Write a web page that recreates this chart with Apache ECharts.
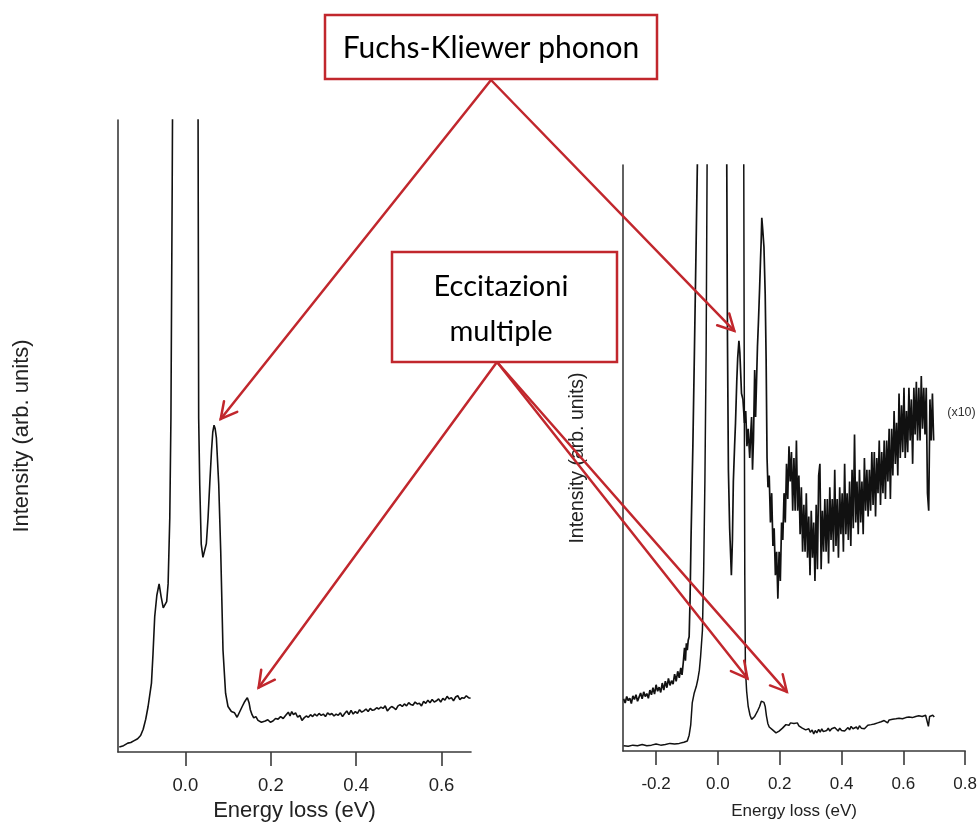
<!DOCTYPE html>
<html>
<head>
<meta charset="utf-8">
<title>EELS spectra</title>
<script src="https://cdn.jsdelivr.net/npm/echarts@6/dist/echarts.min.js"></script>
<style>
  html, body { margin: 0; padding: 0; background: #fff; }
  #main { width: 980px; height: 827px; }
</style>
</head>
<body>
<div id="main"></div>
<script>
// Left spectrum: energy loss (eV) and intensity (arb. units, 0..100 = axis height)
const leftEnergy = [
  -0.155, -0.145, -0.135, -0.128, -0.120, -0.112, -0.105, -0.099, -0.093, -0.0875,
  -0.0796, -0.076, -0.072, -0.067, -0.0617, -0.057, -0.052, -0.0484, -0.044, -0.0406,
  -0.0367, -0.034, -0.031, -0.027, -0.018, -0.008, 0.0, 0.010, 0.020, 0.027,
  0.029, 0.031, 0.0335, 0.037, 0.041, 0.045, 0.049, 0.053, 0.057, 0.061,
  0.064, 0.067, 0.0695, 0.0725, 0.078, 0.0826, 0.088, 0.094, 0.0997, 0.1076,
  0.115, 0.121, 0.1255, 0.133, 0.139, 0.145, 0.149, 0.152, 0.156, 0.160,
  0.165, 0.170, 0.174, 0.178, 0.1816,
  0.187, 0.193, 0.199, 0.205, 0.211, 0.217, 0.223, 0.229, 0.235, 0.241,
  0.245, 0.249, 0.253, 0.258, 0.263, 0.268, 0.273, 0.278, 0.283, 0.288,
  0.293, 0.298, 0.303, 0.308, 0.313, 0.318, 0.323, 0.328, 0.333, 0.338,
  0.343, 0.348, 0.353, 0.358, 0.363, 0.368, 0.373, 0.378, 0.383, 0.388,
  0.393, 0.398, 0.403, 0.408, 0.413, 0.418, 0.423, 0.428, 0.433, 0.438,
  0.443, 0.448, 0.453, 0.458, 0.463, 0.468, 0.473, 0.478, 0.483, 0.488,
  0.493, 0.498, 0.503, 0.508, 0.513, 0.518, 0.523, 0.528, 0.533, 0.538,
  0.543, 0.548, 0.553, 0.558, 0.563, 0.568, 0.573, 0.578, 0.583, 0.588,
  0.593, 0.598, 0.603, 0.608, 0.613, 0.618, 0.623, 0.628, 0.633, 0.638,
  0.643, 0.648, 0.653, 0.658, 0.663, 0.668
];
const leftIntensity = [
  0.8, 1.0, 1.4, 1.5, 1.8, 2.1, 2.6, 3.6, 5.2, 7.2,
  10.9, 15.5, 21.4, 24.8, 26.6, 24.6, 22.8, 22.5, 23.8, 26.6,
  37, 52.8, 90, 150, 260, 310, 320, 300, 240, 150,
  120, 52.8, 42.3, 32.9, 30.8, 30.5, 33, 37.1, 42.5, 47.6,
  50.6, 51.7, 51.2, 49.7, 42.3, 31.9, 16.1, 9.3, 7.2, 6.4,
  6.2, 5.5, 5.7, 7.2, 8.0, 8.6, 7.8, 6.7, 5.9, 5.4,
  5.6, 5.0, 5.1, 4.7, 4.6,
  4.9, 5.1, 4.7, 4.9, 5.3, 5.2, 5.6, 5.3, 5.8, 6.3,
  5.7, 6.4, 5.9, 6.2, 5.5, 5.8, 5.0, 5.4, 5.7, 5.5,
  5.9, 5.6, 6.0, 5.7, 6.1, 5.8, 6.0, 5.6, 6.2, 5.9,
  6.1, 5.7, 6.0, 5.8, 6.2, 5.6, 6.1, 6.5, 5.9, 6.6,
  6.0, 6.4, 6.1, 6.7, 6.3, 6.5, 6.8, 6.4, 6.9, 6.6,
  6.7, 7.0, 6.8, 7.1, 6.9, 7.3, 6.5, 6.9, 7.2, 7.0,
  6.7, 7.3, 7.5, 7.2, 7.6, 7.3, 7.8, 7.5, 7.4, 7.9,
  7.6, 7.7, 7.3, 8.0, 7.7, 8.2, 7.8, 8.3, 7.9, 8.1,
  8.4, 7.9, 8.5, 8.2, 8.8, 8.4, 8.6, 8.1, 8.7, 8.9,
  8.3, 8.6, 8.5, 8.9, 8.6, 8.5
];

// Right spectrum, as measured
const rightEnergy = [
  -0.305, -0.29, -0.275, -0.26, -0.245, -0.23, -0.215, -0.20, -0.185, -0.17,
  -0.155, -0.14, -0.125, -0.11, -0.099, -0.093, -0.088, -0.083, -0.077, -0.070,
  -0.065, -0.060, -0.056, -0.050, -0.046, -0.042, -0.038, -0.034, -0.025, -0.010,
  0.000, 0.020, 0.040, 0.060, 0.075, 0.082, 0.085, 0.087, 0.089, 0.093,
  0.098, 0.104, 0.109, 0.1137, 0.119, 0.124, 0.129, 0.135, 0.1405, 0.1455,
  0.149, 0.153, 0.157, 0.1615, 0.166, 0.171, 0.177, 0.182, 0.188, 0.193,
  0.198, 0.204, 0.209, 0.215, 0.220, 0.225, 0.230, 0.235, 0.240, 0.246,
  0.252, 0.257, 0.262, 0.268, 0.273, 0.278, 0.284, 0.289, 0.294, 0.299,
  0.305, 0.310, 0.315, 0.320, 0.326, 0.331, 0.336, 0.341, 0.347, 0.352,
  0.357, 0.362, 0.368, 0.373, 0.378, 0.384, 0.389, 0.394, 0.400, 0.405,
  0.410, 0.416, 0.421, 0.426, 0.431, 0.437, 0.442, 0.448, 0.453, 0.458,
  0.464, 0.469, 0.474, 0.480, 0.485, 0.490, 0.496, 0.501, 0.506, 0.512,
  0.517, 0.522, 0.528, 0.533, 0.538, 0.544, 0.549, 0.554, 0.560, 0.565,
  0.570, 0.576, 0.581, 0.586, 0.592, 0.597, 0.602, 0.608, 0.613, 0.618,
  0.624, 0.629, 0.634, 0.640, 0.645, 0.650, 0.656, 0.661, 0.666, 0.672,
  0.677, 0.681, 0.685, 0.690, 0.695, 0.700
];
const rightIntensity = [
  0.9, 0.8, 1.0, 0.9, 1.1, 0.9, 1.0, 1.2, 1.0, 1.1,
  1.3, 1.2, 1.3, 1.5, 1.7, 2.7, 4.4, 8.2, 9.8, 11.0,
  12.2, 13.8, 16.1, 20.6, 30.9, 46.2, 68.4, 110, 300, 700,
  900, 850, 700, 480, 260, 140, 70, 30, 14, 10.2,
  7.6, 6.1, 5.4, 5.6, 5.9, 6.4, 6.9, 7.6, 8.5, 8.8,
  8.3, 7.6, 6.0, 4.7, 4.1, 3.9, 3.6, 3.4, 3.1, 3.0,
  3.4, 3.6, 3.9, 4.2, 4.5, 4.7, 4.4, 4.8, 4.5, 4.7,
  4.9, 4.8, 4.3, 4.6, 3.9, 4.2, 3.6, 3.3, 3.8, 3.2,
  3.6, 2.9, 3.5, 3.1, 3.7, 3.2, 3.8, 3.3, 3.6, 3.5,
  3.9, 3.4, 3.8, 3.5, 4.0, 3.7, 3.4, 3.9, 3.5, 3.8,
  3.4, 3.6, 4.0, 3.6, 4.2, 3.8, 4.1, 4.1, 3.7, 4.3,
  3.9, 4.2, 3.8, 4.0, 4.4, 4.1, 4.5, 4.2, 4.6, 4.4,
  4.8, 4.5, 5.0, 4.7, 5.2, 5.0, 4.8, 5.3, 5.0, 5.4,
  5.1, 5.5, 5.2, 5.6, 5.3, 5.5, 5.2, 5.7, 5.4, 5.8,
  5.5, 5.7, 5.4, 5.9, 5.6, 6.0, 5.7, 5.9, 5.6, 6.1,
  5.8, 4.2, 5.9, 5.7, 6.1, 5.8
];

// Right spectrum magnified ten times (offset trace)
const zoomEnergy = [
  -0.305, -0.300, -0.295, -0.290, -0.285, -0.280, -0.275, -0.270, -0.265, -0.260,
  -0.255, -0.250, -0.245, -0.240, -0.235, -0.230, -0.225, -0.220, -0.215, -0.210,
  -0.205, -0.200, -0.195, -0.190, -0.185, -0.180, -0.175, -0.170, -0.165, -0.160,
  -0.155, -0.150, -0.145, -0.140, -0.135, -0.130, -0.125, -0.120, -0.116, -0.112,
  -0.108, -0.105, -0.102, -0.099, -0.096, -0.093, -0.090, -0.087, -0.084, -0.081,
  -0.076, -0.070, -0.065, -0.055, -0.040, -0.020, 0.000, 0.015, 0.024, 0.0287,
  0.031, 0.034, 0.038, 0.0436, 0.047, 0.050, 0.054, 0.057, 0.061, 0.064,
  0.068, 0.071, 0.0764, 0.081, 0.086, 0.090, 0.094, 0.098, 0.103, 0.106,
  0.109, 0.112, 0.115, 0.119, 0.122, 0.125, 0.128, 0.131, 0.135, 0.138,
  0.140, 0.142, 0.145, 0.149, 0.153, 0.156, 0.159, 0.162,
  0.166, 0.170, 0.174, 0.178, 0.182, 0.186, 0.190, 0.194, 0.198, 0.202,
  0.206, 0.210, 0.214, 0.218, 0.222, 0.226, 0.230, 0.234, 0.238, 0.242,
  0.246, 0.250, 0.254, 0.258, 0.262, 0.266, 0.270, 0.274, 0.278, 0.282,
  0.286, 0.290, 0.294, 0.298, 0.302, 0.306, 0.310, 0.314, 0.318, 0.322,
  0.326, 0.330, 0.334, 0.338, 0.342, 0.346, 0.350, 0.354, 0.358, 0.362,
  0.366, 0.370, 0.374, 0.378, 0.382, 0.386, 0.390, 0.394, 0.398, 0.402,
  0.406, 0.410, 0.414, 0.418, 0.422, 0.426, 0.430, 0.434, 0.438, 0.442,
  0.446, 0.450, 0.454, 0.458, 0.462, 0.466, 0.470, 0.474, 0.478, 0.482,
  0.486, 0.490, 0.494, 0.498, 0.502, 0.506, 0.510, 0.514, 0.518, 0.522,
  0.526, 0.530, 0.534, 0.538, 0.542, 0.546, 0.550, 0.554, 0.558, 0.562,
  0.566, 0.570, 0.574, 0.578, 0.582, 0.586, 0.590, 0.594, 0.598, 0.602,
  0.606, 0.610, 0.614, 0.618, 0.622, 0.626, 0.630, 0.634, 0.638, 0.642,
  0.646, 0.650, 0.654, 0.658, 0.662, 0.666, 0.670, 0.674, 0.678, 0.682,
  0.686, 0.690, 0.694, 0.698
];
const zoomIntensity = [
  8.9, 8.2, 9.3, 8.6, 9.0, 8.1, 9.4, 8.8, 9.6, 8.5,
  9.2, 9.9, 8.9, 10.1, 9.3, 9.8, 9.0, 10.4, 9.6, 10.8,
  9.7, 11.3, 10.2, 10.9, 10.0, 11.6, 10.4, 11.9, 10.8, 12.4,
  11.2, 12.0, 11.4, 13.1, 11.9, 13.6, 12.5, 14.2, 13.0, 15.1,
  17.6, 15.4, 18.4, 17.2, 18.9, 19.5, 26, 36, 44, 52,
  68, 88, 105, 160, 260, 380, 420, 360, 200, 100,
  70, 48, 38, 30, 36, 46, 52, 56, 63, 67,
  70, 68, 61, 60, 56, 58, 52, 55, 50, 54,
  57, 48, 53, 65, 57, 63, 69, 73, 79, 84,
  87, 91, 89, 86, 78, 67, 50, 45,
  47, 39, 44, 35, 38, 30, 34, 26, 34, 29,
  39, 36, 44, 39, 49, 43, 52, 46, 51, 41,
  50, 41, 53, 41, 47, 37, 45, 34, 42, 34,
  44, 33, 40, 30, 41, 33, 39, 29, 42, 31,
  47, 49, 31, 41, 34, 43, 34, 43, 32, 45,
  36, 43, 34, 48, 35, 43, 33, 45, 37, 44,
  34, 49, 37, 44, 36, 46, 35, 48, 38, 54,
  39, 46, 37, 48, 39, 46, 37, 50, 41, 48,
  40, 48, 41, 51, 42, 51, 40, 50, 44, 53,
  42, 51, 44, 53, 43, 53, 46, 55, 43, 55,
  47, 58, 49, 56, 47, 61, 50, 59, 51, 62,
  50, 58, 51, 62, 53, 60, 49, 62, 54, 63,
  53, 62, 53, 64, 55, 62, 54, 62, 44, 41,
  60, 53, 61, 53
];

// Tick positions on the two energy axes
const leftTicks = [0, 0.2, 0.4, 0.6];
const rightTicks = [-0.2, 0, 0.2, 0.4, 0.6, 0.8];

// Where the annotation arrows point, in data coordinates of each panel
const phononTargets = [
  { grid: 0, at: [0.0826, 52.7] },
  { grid: 1, at: [0.053, 71.7] }
];
const multipleTargets = [
  { grid: 0, at: [0.1715, 10.2] },
  { grid: 1, at: [0.0955, 12.4] },
  { grid: 1, at: [0.223, 10.1] }
];

const pairs = (xs, ys) => xs.map((x, i) => [x, ys[i]]);

const RED = '#C1272D';
const AXIS = '#3a3a3a';
const INK = '#111';

function energyAxis(grid, min, max, ticks, labelSize, nameSize, labelMargin, nameGap) {
  return {
    type: 'value', gridIndex: grid, min: min, max: max,
    axisLine: { show: true, onZero: false, lineStyle: { color: AXIS, width: 1.6 } },
    axisTick: { show: true, customValues: ticks, length: 14, lineStyle: { color: AXIS, width: 1.6 } },
    axisLabel: {
      show: true, customValues: ticks, margin: labelMargin,
      formatter: v => v.toFixed(1),
      fontFamily: 'Liberation Sans, Arial, sans-serif', fontSize: labelSize, color: '#222'
    },
    splitLine: { show: false },
    name: 'Energy loss (eV)', nameLocation: 'middle', nameGap: nameGap,
    nameTextStyle: { fontFamily: 'Liberation Sans, Arial, sans-serif', fontSize: nameSize, color: '#222' }
  };
}

function intensityAxis(grid, nameSize, nameGap) {
  return {
    type: 'value', gridIndex: grid, min: 0, max: 100,
    axisLine: { show: true, onZero: false, lineStyle: { color: AXIS, width: 1.6 } },
    axisTick: { show: false }, axisLabel: { show: false }, splitLine: { show: false },
    name: 'Intensity (arb. units)', nameLocation: 'middle', nameGap: nameGap,
    nameTextStyle: { fontFamily: 'Liberation Sans, Arial, sans-serif', fontSize: nameSize, color: '#222' }
  };
}

function trace(xi, data, width) {
  return {
    type: 'line', xAxisIndex: xi, yAxisIndex: xi, data: data,
    showSymbol: false, symbol: 'none', clip: true, animation: false,
    lineStyle: { color: INK, width: width }
  };
}

const chart = echarts.init(document.getElementById('main'));
chart.setOption({
  animation: false,
  backgroundColor: '#fff',
  grid: [
    { left: 118, top: 120, width: 353, height: 636 },
    { left: 623, top: 165, width: 347, height: 586 }
  ],
  xAxis: [
    energyAxis(0, -0.158, 0.669, leftTicks, 18.5, 22, 24, 48),
    energyAxis(1, -0.307, 0.8, rightTicks, 17, 17, 25, 52)
  ],
  yAxis: [
    intensityAxis(0, 22, 85),
    intensityAxis(1, 19.5, 35)
  ],
  series: [
    trace(0, pairs(leftEnergy, leftIntensity), 1.6),
    trace(1, pairs(rightEnergy, rightIntensity), 1.5),
    trace(1, pairs(zoomEnergy, zoomIntensity), 1.7)
  ]
});

// Annotation boxes and arrows
function arrow(from, to) {
  const dx = to[0] - from[0], dy = to[1] - from[1];
  const len = Math.hypot(dx, dy);
  const bx = -dx / len, by = -dy / len;
  const a = 28 * Math.PI / 180, L = 18;
  const c = Math.cos(a), s = Math.sin(a);
  const w1 = [to[0] + L * (bx * c - by * s), to[1] + L * (bx * s + by * c)];
  const w2 = [to[0] + L * (bx * c + by * s), to[1] + L * (-bx * s + by * c)];
  const style = { stroke: RED, lineWidth: 2.5, fill: null, lineCap: 'round', lineJoin: 'miter' };
  return [
    { type: 'line', z: 20, shape: { x1: from[0], y1: from[1], x2: to[0], y2: to[1] }, style: style },
    { type: 'polyline', z: 20, shape: { points: [w1, to, w2] }, style: style }
  ];
}

const phononOrigin = [491, 80];
const multipleOrigin = [497, 362];
const elements = [];
phononTargets.forEach(t => {
  elements.push(...arrow(phononOrigin, chart.convertToPixel({ gridIndex: t.grid }, t.at)));
});
multipleTargets.forEach(t => {
  elements.push(...arrow(multipleOrigin, chart.convertToPixel({ gridIndex: t.grid }, t.at)));
});

elements.push(
  { type: 'rect', z: 30, shape: { x: 325, y: 15, width: 332, height: 64 },
    style: { fill: '#fff', stroke: RED, lineWidth: 2.5 } },
  { type: 'text', z: 31, style: { text: 'Fuchs-Kliewer phonon', x: 491, y: 48,
    align: 'center', verticalAlign: 'middle', font: '30px Lato, "Open Sans", sans-serif', fill: '#000' } },
  { type: 'rect', z: 30, shape: { x: 392, y: 252, width: 225, height: 110 },
    style: { fill: '#fff', stroke: RED, lineWidth: 2.5 } },
  { type: 'text', z: 31, style: { text: 'Eccitazioni\nmultiple', x: 501, y: 309, lineHeight: 45,
    align: 'center', verticalAlign: 'middle', font: '29px Lato, "Open Sans", sans-serif', fill: '#000' } }
);

// Scale factor note for the magnified trace
const x10 = chart.convertToPixel({ gridIndex: 1 }, [0.742, 57.7]);
elements.push({ type: 'text', z: 31, style: { text: '(x10)', x: x10[0], y: x10[1],
  align: 'left', verticalAlign: 'middle', font: '12.5px "Liberation Sans", Arial, sans-serif', fill: '#333' } });

chart.setOption({ graphic: elements });
</script>
</body>
</html>
